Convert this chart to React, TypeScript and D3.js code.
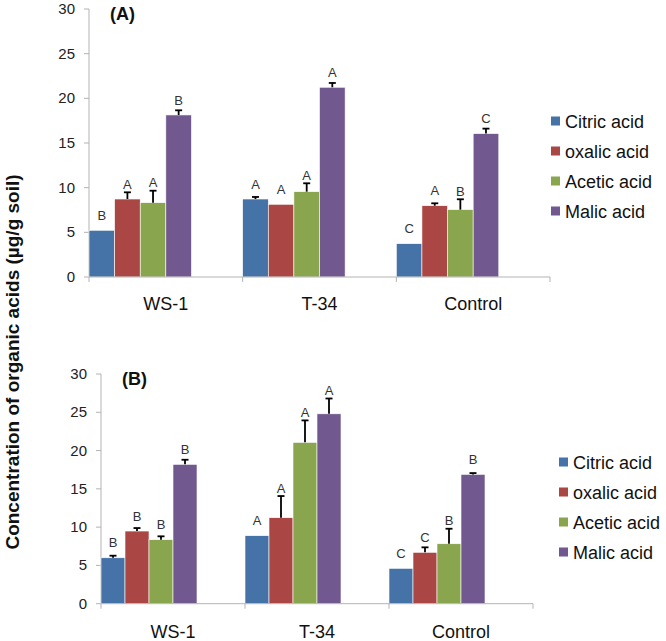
import React from "react";
import * as d3 from "d3";

const categories = ["WS-1", "T-34", "Control"];
const seriesNames = ["Citric acid", "oxalic acid", "Acetic acid", "Malic acid"];
const seriesColors = ["#4572A7", "#AA4643", "#89A54E", "#71588F"];
const yTickValues = [0, 5, 10, 15, 20, 25, 30];

// Panel A
const citricA = [5.23, 8.73, 3.73];
const oxalicA = [8.73, 8.14, 7.98];
const aceticA = [8.32, 9.55, 7.54];
const malicA = [18.14, 21.24, 16.05];
const citricErrA = [0, 0.23, 0];
const oxalicErrA = [0.75, 0, 0.27];
const aceticErrA = [1.34, 0.94, 1.16];
const malicErrA = [0.52, 0.48, 0.56];
const citricLetA = ["B", "A", "C"];
const oxalicLetA = ["A", "A", "A"];
const aceticLetA = ["A", "A", "B"];
const malicLetA = ["B", "A", "C"];

// Panel B
const citricB = [6.0, 8.88, 4.62];
const oxalicB = [9.49, 11.23, 6.71];
const aceticB = [8.36, 21.07, 7.83];
const malicB = [18.2, 24.8, 16.89];
const citricErrB = [0.27, 0, 0];
const oxalicErrB = [0.39, 2.83, 0.65];
const aceticErrB = [0.44, 2.87, 1.96];
const malicErrB = [0.6, 2.0, 0.17];
const citricLetB = ["B", "A", "C"];
const oxalicLetB = ["B", "A", "C"];
const aceticLetB = ["B", "A", "B"];
const malicLetB = ["B", "A", "B"];

const FONT = "Arial, 'Liberation Sans', sans-serif";

type PanelProps = {
  title: string;
  values: number[][];
  errors: number[][];
  letters: string[][];
  left: number;
  right: number;
  yBottom: number;
  yTop: number;
  legendX: number;
  legendY: number;
  labelY: number;
};

function Panel(p: PanelProps) {
  const x = d3.scaleBand<string>().domain(categories).range([p.left, p.right]).padding(0);
  const slot = d3.scaleBand<number>().domain(d3.range(6)).range([0, x.bandwidth()]).padding(0);
  const y = d3.scaleLinear().domain([0, 30]).range([p.yBottom, p.yTop]);
  const axisColor = "#b3b3b3";
  const bw = slot.bandwidth();
  const boundaries = categories.map((c) => x(c) as number).concat([p.right]);

  return (
    <g>
      {/* y axis */}
      <line x1={p.left} x2={p.left} y1={y(30)} y2={y(0)} stroke={axisColor} strokeWidth={1} />
      {yTickValues.map((t) => (
        <g key={t}>
          <line x1={p.left - 5} x2={p.left} y1={y(t)} y2={y(t)} stroke={axisColor} />
          <text x={p.left - 14} y={y(t) + 5} textAnchor="end" fontSize={15} fontFamily={FONT} fill="#222">
            {t}
          </text>
        </g>
      ))}
      {/* bars */}
      {categories.map((c, ci) => (
        <g key={c}>
          {seriesNames.map((s, si) => {
            const v = p.values[si][ci];
            const e = p.errors[si][ci];
            const bx = (x(c) as number) + (slot(si) as number);
            const top = y(v);
            const errTop = y(v + e);
            const letterCenter = Math.min(top - 15, errTop - 8);
            return (
              <g key={s}>
                <rect x={bx} y={top} width={bw} height={y(0) - top} fill={seriesColors[si]} stroke="#ffffff" strokeWidth={0.6} />
                {e > 0 && (
                  <g stroke="#000" strokeWidth={1.8}>
                    <line x1={bx + bw / 2} x2={bx + bw / 2} y1={top} y2={errTop} />
                    <line x1={bx + bw / 2 - 3.5} x2={bx + bw / 2 + 3.5} y1={errTop} y2={errTop} />
                  </g>
                )}
                <text x={bx + bw / 2} y={letterCenter + 4.7} textAnchor="middle" fontSize={13} fontFamily={FONT} fill="#333">
                  {p.letters[si][ci]}
                </text>
              </g>
            );
          })}
        </g>
      ))}
      {/* x axis */}
      <line x1={p.left} x2={p.right} y1={y(0)} y2={y(0)} stroke={axisColor} strokeWidth={1} />
      {boundaries.map((bx, i) => (
        <line key={i} x1={bx} x2={bx} y1={y(0)} y2={y(0) + 5} stroke={axisColor} />
      ))}
      {categories.map((c) => (
        <text key={c} x={(x(c) as number) + x.bandwidth() / 2} y={p.labelY} textAnchor="middle" fontSize={18} fontFamily={FONT} fill="#111">
          {c}
        </text>
      ))}
      {/* panel title */}
      <text x={p.left + 21} y={y(30) + 10.5} fontSize={18} fontWeight="bold" fontFamily={FONT} fill="#111">
        {p.title}
      </text>
      {/* legend */}
      {seriesNames.map((s, si) => (
        <g key={s}>
          <rect x={p.legendX} y={p.legendY + si * 30 - 4.5} width={9} height={9} fill={seriesColors[si]} />
          <text x={p.legendX + 14} y={p.legendY + si * 30 + 6.5} fontSize={18} fontFamily={FONT} fill="#111">
            {s}
          </text>
        </g>
      ))}
    </g>
  );
}

export default function App() {
  return (
    <svg width={666} height={641} style={{ position: "absolute", left: 0, top: 0, background: "#fff" }}>
      <rect width={666} height={641} fill="#fff" />
      <Panel
        title="(A)"
        values={[citricA, oxalicA, aceticA, malicA]}
        errors={[citricErrA, oxalicErrA, aceticErrA, malicErrA]}
        letters={[citricLetA, oxalicLetA, aceticLetA, malicLetA]}
        left={89}
        right={550}
        yBottom={277}
        yTop={9}
        legendX={551}
        legendY={121}
        labelY={310}
      />
      <Panel
        title="(B)"
        values={[citricB, oxalicB, aceticB, malicB]}
        errors={[citricErrB, oxalicErrB, aceticErrB, malicErrB]}
        letters={[citricLetB, oxalicLetB, aceticLetB, malicLetB]}
        left={101}
        right={533}
        yBottom={603.7}
        yTop={374}
        legendX={559}
        legendY={462}
        labelY={638}
      />
      <text
        transform="translate(19,362) rotate(-90)"
        textAnchor="middle"
        fontSize={19}
        fontWeight="bold"
        fontFamily={FONT}
        fill="#111"
      >
        Concentration of organic acids (µg/g soil)
      </text>
    </svg>
  );
}
